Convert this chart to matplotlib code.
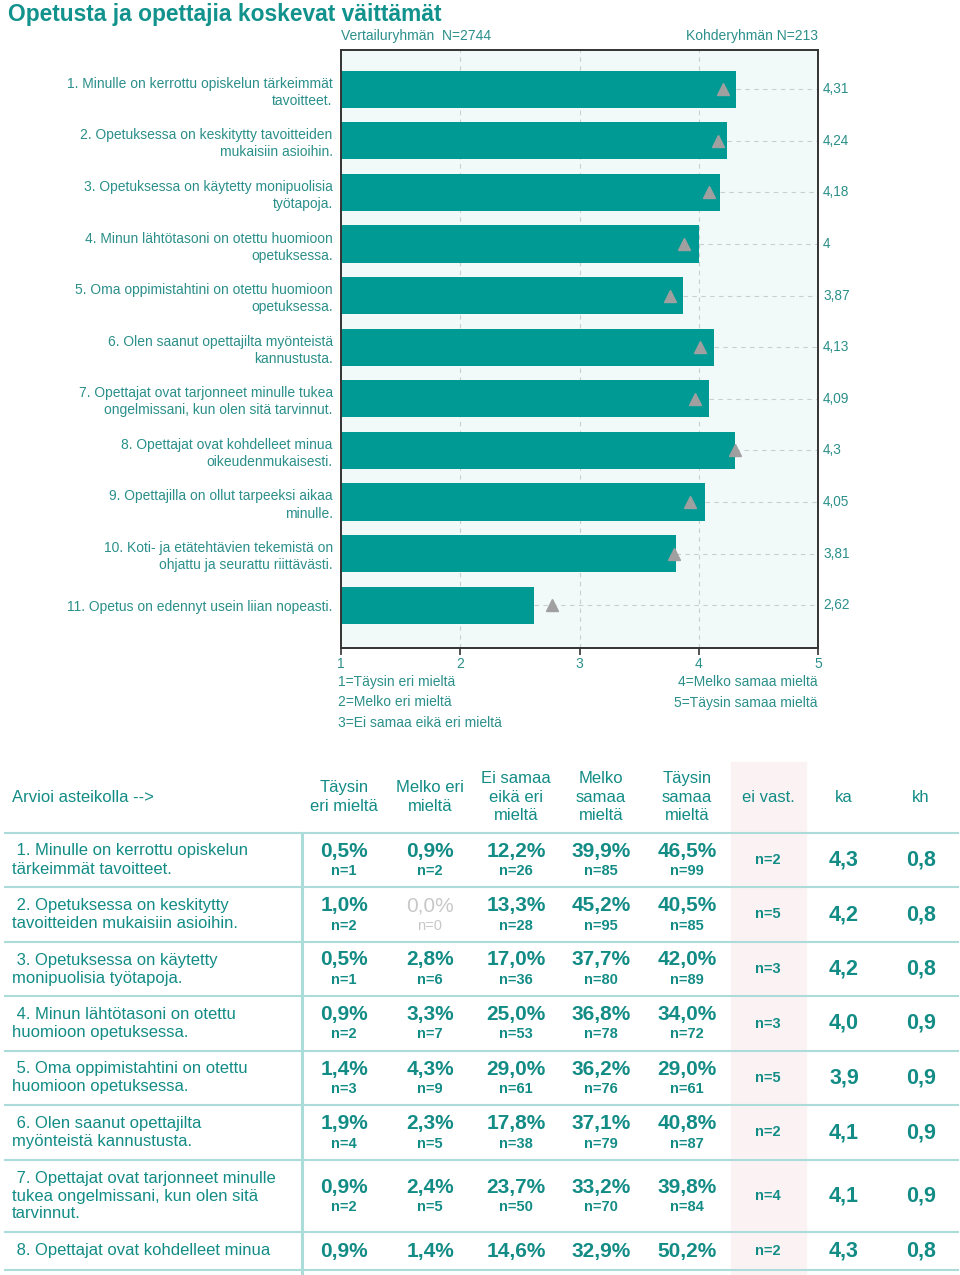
import numpy as np
import matplotlib
matplotlib.use("Agg")
import matplotlib.pyplot as plt
from matplotlib.patches import Rectangle
import matplotlib.transforms as mtransforms

plt.rcParams['font.family'] = ['Liberation Sans', 'DejaVu Sans']

# ---- data: bar chart ----
items = [
    "1. Minulle on kerrottu opiskelun tärkeimmät\ntavoitteet.",
    "2. Opetuksessa on keskitytty tavoitteiden\nmukaisiin asioihin.",
    "3. Opetuksessa on käytetty monipuolisia\ntyötapoja.",
    "4. Minun lähtötasoni on otettu huomioon\nopetuksessa.",
    "5. Oma oppimistahtini on otettu huomioon\nopetuksessa.",
    "6. Olen saanut opettajilta myönteistä\nkannustusta.",
    "7. Opettajat ovat tarjonneet minulle tukea\nongelmissani, kun olen sitä tarvinnut.",
    "8. Opettajat ovat kohdelleet minua\noikeudenmukaisesti.",
    "9. Opettajilla on ollut tarpeeksi aikaa\nminulle.",
    "10. Koti- ja etätehtävien tekemistä on\nohjattu ja seurattu riittävästi.",
    "11. Opetus on edennyt usein liian nopeasti.",
]
target_means = [4.31, 4.24, 4.18, 4.0, 3.87, 4.13, 4.09, 4.3, 4.05, 3.81, 2.62]
reference_means = [4.20, 4.16, 4.09, 3.88, 3.76, 4.01, 3.97, 4.30, 3.93, 3.79, 2.77]
scale_ticks = [1, 2, 3, 4, 5]
scale_left = ["1=Täysin eri mieltä", "2=Melko eri mieltä", "3=Ei samaa eikä eri mieltä"]
scale_right = ["4=Melko samaa mieltä", "5=Täysin samaa mieltä"]

# ---- data: table ----
col_headers = ["Täysin\neri mieltä", "Melko eri\nmieltä", "Ei samaa\neikä eri\nmieltä",
               "Melko\nsamaa\nmieltä", "Täysin\nsamaa\nmieltä", "ei vast.", "ka", "kh"]
row_labels = [
    " 1. Minulle on kerrottu opiskelun\ntärkeimmät tavoitteet.",
    " 2. Opetuksessa on keskitytty\ntavoitteiden mukaisiin asioihin.",
    " 3. Opetuksessa on käytetty\nmonipuolisia työtapoja.",
    " 4. Minun lähtötasoni on otettu\nhuomioon opetuksessa.",
    " 5. Oma oppimistahtini on otettu\nhuomioon opetuksessa.",
    " 6. Olen saanut opettajilta\nmyönteistä kannustusta.",
    " 7. Opettajat ovat tarjonneet minulle\ntukea ongelmissani, kun olen sitä\ntarvinnut.",
    " 8. Opettajat ovat kohdelleet minua",
]
pct = [
    [0.5, 0.9, 12.2, 39.9, 46.5],
    [1.0, 0.0, 13.3, 45.2, 40.5],
    [0.5, 2.8, 17.0, 37.7, 42.0],
    [0.9, 3.3, 25.0, 36.8, 34.0],
    [1.4, 4.3, 29.0, 36.2, 29.0],
    [1.9, 2.3, 17.8, 37.1, 40.8],
    [0.9, 2.4, 23.7, 33.2, 39.8],
    [0.9, 1.4, 14.6, 32.9, 50.2],
]
counts = [
    [1, 2, 26, 85, 99],
    [2, 0, 28, 95, 85],
    [1, 6, 36, 80, 89],
    [2, 7, 53, 78, 72],
    [3, 9, 61, 76, 61],
    [4, 5, 38, 79, 87],
    [2, 5, 50, 70, 84],
    None,
]
no_answer = [2, 5, 3, 3, 5, 2, 4, 2]
ka = [4.3, 4.2, 4.2, 4.0, 3.9, 4.1, 4.1, 4.3]
kh = [0.8, 0.8, 0.8, 0.9, 0.9, 0.9, 0.9, 0.8]

BAR = "#009a95"
TXT = "#2b8f8a"
TAB = "#138c86"
LINE = "#acdcd9"


def fi(v, fmt="{:.1f}"):
    return fmt.format(v).replace(".", ",")


W, H = 960, 1275
fig = plt.figure(figsize=(W / 100, H / 100), dpi=100)

# ---- bar chart ----
ax = fig.add_axes([341 / W, 1 - 648 / H, 477 / W, 598 / H])
ax.set_facecolor("#f2f9f9")
y = np.arange(len(items))
ax.barh(y, np.array(target_means) - 1, left=1, height=0.72, color=BAR, zorder=2)
for g in scale_ticks[1:-1]:
    ax.axvline(g, color="#c9cfcf", ls=(0, (4, 4)), lw=0.8, zorder=1)
ax.hlines(y, target_means, 5, color="#c9cfcf", ls=(0, (4, 4)), lw=0.8, zorder=1)
ax.plot(reference_means, y, ls="none", marker="^", ms=9, color="#a0a0a0", zorder=3)
ax.set_xlim(1, 5)
ax.set_ylim(10.83, -0.76)
ax.set_yticks(y, items, fontsize=10, color=TXT, linespacing=1.28)
ax.tick_params(axis="y", length=0, pad=6)
ax.set_xticks(scale_ticks, [str(t) for t in scale_ticks])
ax.tick_params(axis="x", length=5, width=1.2, color="#333333", labelcolor=TXT,
               labelsize=10, pad=1.5)
for s in ax.spines.values():
    s.set_color("#333333")
    s.set_linewidth(1.4)

tr = mtransforms.blended_transform_factory(ax.transAxes, ax.transData)
for yi, v in zip(y, target_means):
    ax.text(1.011, yi, f"{v:g}".replace(".", ","), transform=tr, va="center",
            ha="left", fontsize=9.8, color=TXT)

# ---- overlay in pixel coords for title, legend and table ----
ov = fig.add_axes([0, 0, 1, 1], zorder=-1)
ov.set_xlim(0, W)
ov.set_ylim(H, 0)
ov.axis("off")

ov.text(8, 14, "Opetusta ja opettajia koskevat väittämät", fontsize=16.4,
        fontweight="bold", color="#12928c", va="center", ha="left")
ov.text(341, 36, "Vertailuryhmän  N=2744", fontsize=10, color=TXT, va="center")
ov.text(818, 36, "Kohderyhmän N=213", fontsize=10, color=TXT, va="center", ha="right")
for i, s in enumerate(scale_left):
    ov.text(338, 682 + 20.5 * i, s, fontsize=10, color=TXT, va="center")
for i, s in enumerate(scale_right):
    ov.text(818, 682 + 20.5 * i, s, fontsize=10, color=TXT, va="center", ha="right")

# table
col_x = [344, 430, 516, 601, 687, 768, 844, 921]
row_edges = [833, 887, 942, 996, 1051, 1105, 1160, 1232, 1270]

ov.add_patch(Rectangle((731, 762), 75, H - 762, color="#fbf3f3", zorder=0))
ov.text(12, 797, "Arvioi asteikolla -->", fontsize=12, color=TAB, va="center")
for cx, hd in zip(col_x, col_headers):
    ov.text(cx, 797, hd, fontsize=12, color=TAB, ha="center", va="center",
            linespacing=1.31)

for e in row_edges:
    ov.plot([5, 958], [e, e], color=LINE, lw=1.5, zorder=1)
ov.plot([302, 302], [row_edges[0], H], color=LINE, lw=2.2, zorder=1)

for r in range(len(row_labels)):
    top, bot = row_edges[r], row_edges[r + 1]
    cy = (top + bot) / 2
    last = counts[r] is None
    ov.text(12, cy, row_labels[r], fontsize=12, color=TAB, va="center",
            linespacing=1.25)
    for c in range(5):
        v = pct[r][c]
        zero = (not last) and counts[r][c] == 0
        col = "#c8c8c8" if zero else TAB
        wt = "normal" if zero else "bold"
        py = cy if last else cy - 9
        ov.text(col_x[c], py, fi(v) + "%", fontsize=15, color=col,
                fontweight=wt, ha="center", va="center")
        if not last:
            ov.text(col_x[c], cy + 11, f"n={counts[r][c]}", fontsize=10.5,
                    color=col, fontweight=wt, ha="center", va="center")
    ov.text(col_x[5], cy, f"n={no_answer[r]}", fontsize=10.5, color=TAB,
            fontweight="bold", ha="center", va="center")
    ov.text(col_x[6], cy, fi(ka[r]), fontsize=15.5, color=TAB,
            fontweight="bold", ha="center", va="center")
    ov.text(col_x[7], cy, fi(kh[r]), fontsize=15.5, color=TAB,
            fontweight="bold", ha="center", va="center")

fig.savefig("out.png", dpi=100)
